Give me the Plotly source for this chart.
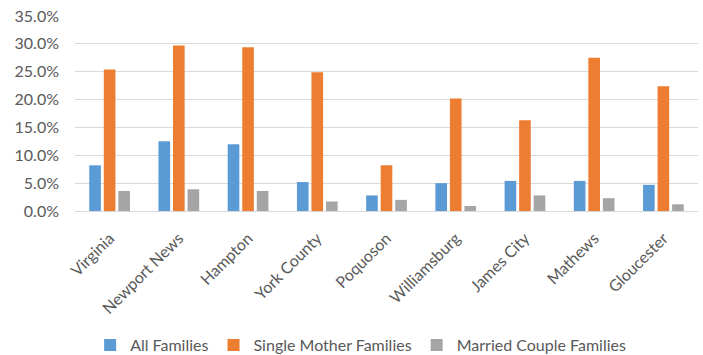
import plotly.graph_objects as go

localities = ["Virginia", "Newport News", "Hampton", "York County", "Poquoson",
              "Williamsburg", "James City", "Mathews", "Gloucester"]
all_families = [8.2, 12.5, 12.0, 5.2, 2.8, 5.0, 5.4, 5.4, 4.7]
single_mother = [25.4, 29.7, 29.4, 24.9, 8.2, 20.2, 16.3, 27.5, 22.4]
married_couple = [3.6, 3.9, 3.6, 1.7, 2.0, 0.9, 2.8, 2.3, 1.2]

series = [
    ("All Families", all_families, "#5b9bd5"),
    ("Single Mother Families", single_mother, "#ed7d31"),
    ("Married Couple Families", married_couple, "#a5a5a5"),
]

fig = go.Figure()
for name, vals, color in series:
    fig.add_trace(go.Bar(
        x=localities, y=[v / 100 for v in vals], name=name,
        marker=dict(color=color, line=dict(width=0)),
    ))

font_family = "Lato, Liberation Sans, sans-serif"
text_color = "#595959"
fig.update_layout(
    width=703, height=355,
    margin=dict(l=75, r=5, t=16, b=144),
    paper_bgcolor="white", plot_bgcolor="white",
    barmode="group", bargap=0.37, bargroupgap=0.2,
    font=dict(family=font_family, size=16, color=text_color),
    showlegend=True,
    legend=dict(orientation="h", xref="container", yref="container",
                x=0.513, xanchor="center", y=0.028, yanchor="middle",
                font=dict(size=16, color=text_color), itemwidth=30,
                traceorder="normal"),
    xaxis=dict(tickangle=-45, showline=False, showgrid=False, ticks="",
               ticklabelstandoff=14,
               tickfont=dict(size=16, color=text_color)),
    yaxis=dict(range=[0, 0.35], dtick=0.05, tickformat=".1%",
               showgrid=True, gridcolor="#d9d9d9", gridwidth=1,
               zeroline=True, zerolinecolor="#d9d9d9", zerolinewidth=1,
               showline=False, ticks="", ticklabelstandoff=15,
               tickfont=dict(size=16, color=text_color)),
)

fig.write_html("out.html")
